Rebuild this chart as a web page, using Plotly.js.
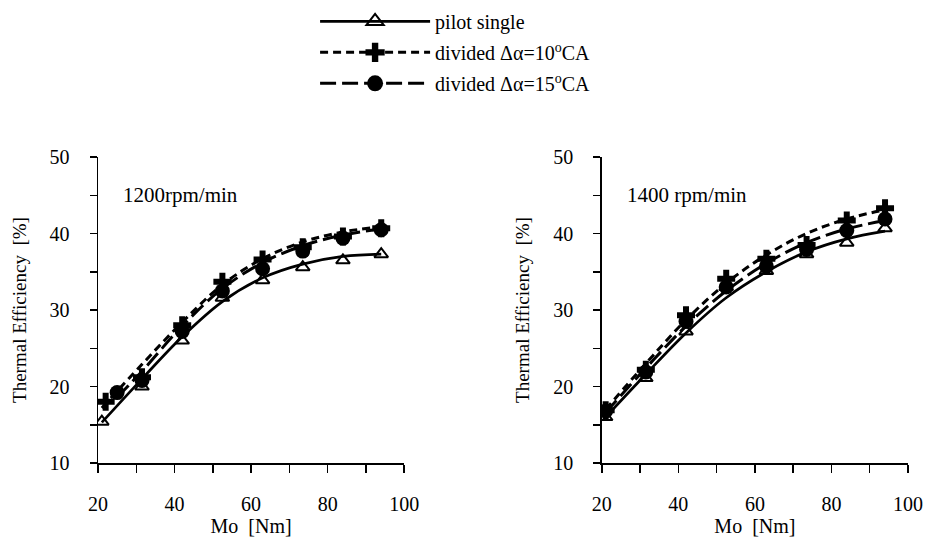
<!DOCTYPE html>
<html>
<head>
<meta charset="utf-8">
<script src="https://cdn.plot.ly/plotly-3.0.1.min.js"></script>
<style>html,body{margin:0;padding:0;background:#fff;}#chart{width:928px;height:543px;}</style>
</head>
<body>
<div id="chart"></div>
<script>
// ---- Data ----
var seriesNames = ["pilot single", "divided \u0394\u03b1=10<sup>o</sup>CA", "divided \u0394\u03b1=15<sup>o</sup>CA"];
var panelLabels = ["1200rpm/min", "1400 rpm/min"];
var xTitle = "Mo\u00a0 [Nm]";
var yTitle = "Thermal Efficiency\u00a0 [%]";

// 1200 rpm panel: measured points
var xPilot1200 = [21, 31.5, 42, 52.5, 63, 73.5, 84, 94];
var yPilot1200 = [15.4, 20.0, 26.0, 31.6, 33.9, 35.6, 36.5, 37.3];
var xD10_1200  = [22, 31.5, 42, 52.5, 63, 73.5, 84, 94];
var yD10_1200  = [18.0, 21.2, 28.0, 33.7, 36.6, 38.2, 39.6, 40.7];
var xD15_1200  = [25, 31.5, 42, 52.5, 63, 73.5, 84, 94];
var yD15_1200  = [19.2, 20.8, 27.2, 32.5, 35.4, 37.7, 39.4, 40.5];

// 1200 rpm panel: trend curves
var xFitPilot1200 = [21, 31.5, 42, 52.5, 63, 73.5, 84, 94];
var yFitPilot1200 = [15.3, 21.0, 26.5, 31.1, 34.2, 36.0, 37.0, 37.3];
var xFitD10_1200  = [21, 31.5, 42, 52.5, 63, 73.5, 84, 94];
var yFitD10_1200  = [17.2, 22.9, 28.4, 33.3, 36.7, 38.9, 40.2, 40.9];
var xFitD15_1200  = [25, 31.5, 42, 52.5, 63, 73.5, 84, 94];
var yFitD15_1200  = [18.6, 22.0, 27.9, 32.8, 36.2, 38.4, 39.8, 40.6];

// 1400 rpm panel: measured points
var xAll1400     = [21, 31.5, 42, 52.5, 63, 73.5, 84, 94];
var yPilot1400   = [16.0, 21.1, 27.2, 33.0, 35.1, 37.3, 38.8, 40.7];
var yD10_1400    = [16.9, 22.2, 29.3, 34.1, 36.7, 38.5, 41.7, 43.3];
var yD15_1400    = [16.8, 21.9, 28.5, 33.0, 35.7, 37.9, 40.4, 41.9];

// 1400 rpm panel: trend curves
var yFitPilot1400 = [16.0, 21.6, 27.0, 31.6, 35.0, 37.6, 39.3, 40.3];
var yFitD10_1400  = [17.0, 23.0, 28.7, 33.5, 37.2, 40.0, 41.9, 43.1];
var yFitD15_1400  = [16.6, 22.4, 27.9, 32.5, 36.1, 38.8, 40.6, 41.7];

var xTickVals = [20, 40, 60, 80, 100];
var yTickVals = [10, 20, 30, 40, 50];

// ---- Styles ----
var FONT = "Liberation Serif, Times New Roman, serif";
var styles = [
  {dash: "solid",     width: 2.7, symbol: "triangle-up-open", msize: 12, mline: 2},
  {dash: "8px,5px",   width: 3,   symbol: "cross",            msize: 15, mline: 0},
  {dash: "16px,6px",  width: 3,   symbol: "circle",           msize: 15, mline: 0}
];

function curve(x, y, s, xa, ya) {
  return {x: x, y: y, xaxis: xa, yaxis: ya, type: "scatter", mode: "lines",
    line: {color: "#000", width: s.width, dash: s.dash, shape: "spline", smoothing: 1},
    showlegend: false, hoverinfo: "skip"};
}
function points(x, y, s, xa, ya) {
  return {x: x, y: y, xaxis: xa, yaxis: ya, type: "scatter", mode: "markers",
    marker: {color: "#000", size: s.msize, symbol: s.symbol, line: {color: "#000", width: s.mline}},
    showlegend: false};
}
function legendEntry(name, s, i) {
  return {x: [null], y: [null], xaxis: "x", yaxis: "y", type: "scatter", mode: "lines+markers",
    name: name, legendgroup: "g" + i, showlegend: true,
    line: {color: "#000", width: s.width, dash: s.dash},
    marker: {color: "#000", size: s.msize + 3, symbol: s.symbol, line: {color: "#000", width: s.mline}}};
}

var data = [
  curve(xFitPilot1200, yFitPilot1200, styles[0], "x", "y"),
  curve(xFitD10_1200,  yFitD10_1200,  styles[1], "x", "y"),
  curve(xFitD15_1200,  yFitD15_1200,  styles[2], "x", "y"),
  points(xPilot1200, yPilot1200, styles[0], "x", "y"),
  points(xD10_1200,  yD10_1200,  styles[1], "x", "y"),
  points(xD15_1200,  yD15_1200,  styles[2], "x", "y"),
  curve(xAll1400, yFitPilot1400, styles[0], "x2", "y2"),
  curve(xAll1400, yFitD10_1400,  styles[1], "x2", "y2"),
  curve(xAll1400, yFitD15_1400,  styles[2], "x2", "y2"),
  points(xAll1400, yPilot1400, styles[0], "x2", "y2"),
  points(xAll1400, yD10_1400,  styles[1], "x2", "y2"),
  points(xAll1400, yD15_1400,  styles[2], "x2", "y2"),
  legendEntry(seriesNames[0], styles[0], 0),
  legendEntry(seriesNames[1], styles[1], 1),
  legendEntry(seriesNames[2], styles[2], 2)
];

function xAxis(domain, anchor) {
  return {domain: domain, anchor: anchor, range: [20, 100], showgrid: false, zeroline: false,
    showline: true, linecolor: "#000", linewidth: 1.5, mirror: false,
    ticks: "outside", ticklen: 8, tickwidth: 1.5, tickcolor: "#000",
    tickvals: xTickVals, tickfont: {family: FONT, size: 20, color: "#000"}, ticklabelstandoff: 14,
    minor: {dtick: 10, ticks: "outside", ticklen: 8, tickwidth: 1.5, tickcolor: "#000", showgrid: false},
    title: {text: xTitle, font: {family: FONT, size: 20, color: "#000"}, standoff: 0},
    automargin: false, fixedrange: true};
}
function yAxis(anchor) {
  return {domain: [0, 1], anchor: anchor, range: [10, 50], showgrid: false, zeroline: false,
    showline: true, linecolor: "#000", linewidth: 1.5, mirror: false,
    ticks: "outside", ticklen: 7, tickwidth: 1.5, tickcolor: "#000",
    tickvals: yTickVals, tickfont: {family: FONT, size: 20, color: "#000"}, ticklabelstandoff: 16,
    minor: {dtick: 5, ticks: "outside", ticklen: 7, tickwidth: 1.5, tickcolor: "#000", showgrid: false},
    title: {text: yTitle, font: {family: FONT, size: 19, color: "#000"}, standoff: 18},
    automargin: false, fixedrange: true};
}

var layout = {
  width: 928, height: 543,
  margin: {l: 98, r: 20, t: 157, b: 80, autoexpand: false},
  paper_bgcolor: "#fff", plot_bgcolor: "#fff",
  font: {family: FONT, size: 18, color: "#000"},
  xaxis: xAxis([0, 0.378], "y"),
  yaxis: yAxis("x"),
  xaxis2: xAxis([0.622, 1], "y2"),
  yaxis2: yAxis("x2"),
  showlegend: true,
  legend: {x: 0.268, y: 1.507, xref: "paper", yref: "paper", xanchor: "left", yanchor: "top",
    orientation: "v", traceorder: "grouped", tracegroupgap: 2, itemwidth: 110,
    font: {family: FONT, size: 20, color: "#000"}, bgcolor: "rgba(0,0,0,0)"},
  annotations: [
    {text: panelLabels[0], x: 26, y: 45, xref: "x", yref: "y", xanchor: "left", yanchor: "middle",
     showarrow: false, font: {family: FONT, size: 21, color: "#000"}},
    {text: panelLabels[1], x: 26, y: 45, xref: "x2", yref: "y2", xanchor: "left", yanchor: "middle",
     showarrow: false, font: {family: FONT, size: 21, color: "#000"}}
  ]
};

Plotly.newPlot("chart", data, layout, {staticPlot: true, displayModeBar: false});
</script>
</body>
</html>
